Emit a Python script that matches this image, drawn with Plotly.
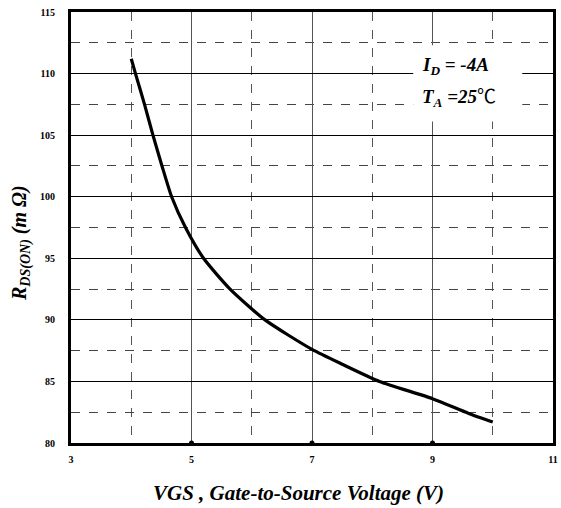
import plotly.graph_objects as go

# R_DS(ON) versus gate-source voltage, I_D = -4 A, T_A = 25 C
vgs = [4.0, 4.07, 4.22, 4.36, 4.51, 4.67, 4.90, 5.20, 5.64, 6.22, 7.0, 7.5, 8.12, 9.0, 9.6, 10.0]
rds_on = [111.2, 110.0, 107.5, 105.0, 102.5, 100.0, 97.5, 95.0, 92.5, 90.0, 87.6, 86.4, 85.0, 83.6, 82.4, 81.7]

x_ticks = [3, 5, 7, 9, 11]
x_tick_labels = ["3", "5", "7", "9", "11"]
y_ticks = [80, 85, 90, 95, 100, 105, 110, 115]
axis_dots_x = [5, 7, 9]

serif = "Liberation Serif, Times New Roman, serif"
cjk = "Noto Sans CJK JP"

fig = go.Figure()
fig.add_trace(go.Scatter(
    x=vgs, y=rds_on, mode="lines",
    line=dict(color="black", width=3.2, shape="spline", smoothing=0.6),
    hoverinfo="skip",
))
fig.add_trace(go.Scatter(
    x=axis_dots_x, y=[80] * len(axis_dots_x), mode="markers",
    marker=dict(color="black", size=5), cliponaxis=False, hoverinfo="skip",
))

axis_common = dict(
    showline=True, linecolor="black", linewidth=3, mirror=True,
    ticks="", zeroline=False,
    tickfont=dict(family=serif, size=10, color="black", weight="bold"),
)

fig.update_xaxes(
    range=[3, 11], tickvals=x_ticks, ticktext=x_tick_labels,
    showgrid=True, gridcolor="#555555", gridwidth=1,
    minor=dict(dtick=1, tick0=3, showgrid=True, gridcolor="#555555",
               gridwidth=1, griddash="dash"),
    ticklabelstandoff=5,
    **axis_common,
)
fig.update_yaxes(
    range=[80, 115], tickvals=y_ticks,
    showgrid=True, gridcolor="black", gridwidth=1.3,
    minor=dict(dtick=2.5, tick0=80, showgrid=True, gridcolor="#444444",
               gridwidth=1, griddash="dash"),
    ticklabelstandoff=11,
    **axis_common,
)

# white panel behind the test conditions
fig.add_shape(type="rect", xref="x", yref="y", x0=8.68, x1=10.49, y0=106.1, y1=112.3,
              fillcolor="white", line=dict(width=0), layer="above")

fig.add_annotation(x=8.80, y=110.6, xref="x", yref="y", xanchor="left", yanchor="middle",
                   text="<b><i>I<sub>D</sub> = -4A</i></b>", showarrow=False,
                   font=dict(family=serif, size=19, color="black"))
fig.add_annotation(x=8.80, y=108.2, xref="x", yref="y", xanchor="left", yanchor="middle",
                   text=f"<b><i>T<sub>A</sub> =25</i></b><span style='font-family:{cjk}'>℃</span>",
                   showarrow=False, font=dict(family=serif, size=19, color="black"))

# axis titles
fig.add_annotation(x=0.472, y=-0.116, xref="paper", yref="paper", xanchor="center", yanchor="middle",
                   text="<b><i>VGS , Gate-to-Source Voltage (V)</i></b>", showarrow=False,
                   font=dict(family=serif, size=21, color="black"))
fig.add_annotation(x=-0.105, y=0.465, xref="paper", yref="paper", xanchor="center", yanchor="middle",
                   text="<b><i>R<sub>DS(ON)</sub> (m Ω)</i></b>", showarrow=False, textangle=-90,
                   font=dict(family=serif, size=20, color="black"))

fig.update_layout(
    width=561, height=508,
    margin=dict(l=71, r=3, t=12, b=65),
    plot_bgcolor="white", paper_bgcolor="white",
    showlegend=False,
)

fig.write_html("out.html")
